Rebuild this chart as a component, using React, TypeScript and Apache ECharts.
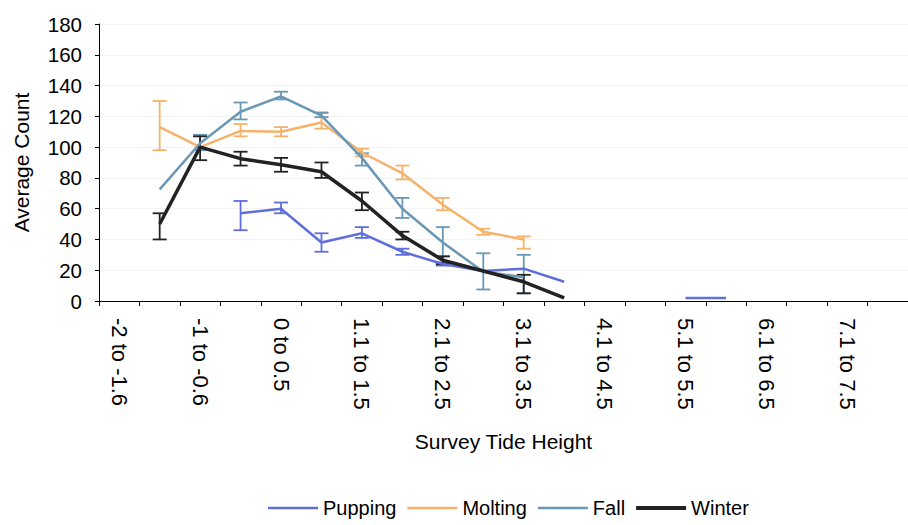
import React, { useEffect, useRef } from "react";
import * as echarts from "echarts";

const categories = [
  "-2 to -1.6", "-1.5 to -1.1", "-1 to -0.6", "-0.5 to -0.1", "0 to 0.5",
  "0.6 to 1", "1.1 to 1.5", "1.6 to 2", "2.1 to 2.5", "2.6 to 3",
  "3.1 to 3.5", "3.6 to 4", "4.1 to 4.5", "4.6 to 5", "5.1 to 5.5",
  "5.6 to 6", "6.1 to 6.5", "6.6 to 7", "7.1 to 7.5", "7.6 to 8",
];

const pupping = [null, null, null, 57, 60, 38, 44, 32, 24, 19.5, 21, 12.5, null, null, 2, 2, null, null, null, null];
const molting = [null, 113, 100, 110.5, 110, 116, 96.5, 83, 62.5, 45, 40, null, null, null, null, null, null, null, null, null];
const fall = [null, 72.5, 102.5, 123, 133, 120.5, 93, 60, 38, 19, 15.5, null, null, null, null, null, null, null, null, null];
const winter = [null, 50, 100, 92.5, 88.5, 84, 65, 42.5, 26.5, 19.5, 12.5, 2, null, null, null, null, null, null, null, null];

// error bars: [categoryIndex, low, high]
const puppingErr = [[3, 46, 65], [4, 57, 64], [5, 32, 44], [6, 41, 48], [7, 30, 34], [8, 23, 25]];
const moltingErr = [[1, 98, 130], [3, 107, 115], [4, 107, 113], [5, 112, 122], [6, 94, 99], [7, 79, 88], [8, 59, 67], [9, 43, 47], [10, 34, 42]];
const fallErr = [[2, 98, 108], [3, 118, 129], [4, 131, 136], [5, 119.5, 122.5], [6, 88, 96], [7, 54, 67], [8, 29, 48], [9, 7.5, 31], [10, 5, 30]];
const winterErr = [[1, 40, 57], [2, 91.5, 107], [3, 88, 97], [4, 84, 93], [5, 80, 90], [6, 59, 70.5], [7, 40, 45], [8, 24, 29], [10, 5, 17]];

const seriesNames = ["Pupping", "Molting", "Fall", "Winter"];
const colors = ["#5e6fdc", "#f5b26b", "#6a97b6", "#222222"];
const widths = [2.5, 2.5, 2.5, 3.5];
const legendIcons = ["path://M0,0H50V2.6H0Z", "path://M0,0H50V2.6H0Z", "path://M0,0H50V2.6H0Z", "rect"];

const FONT = "Liberation Sans, Arial, sans-serif";

export default function App() {
  const ref = useRef<HTMLDivElement>(null);
  useEffect(() => {
    if (!ref.current) return;
    const chart = echarts.init(ref.current, null, { renderer: "svg" });
    const values = [pupping, molting, fall, winter];
    const errs = [puppingErr, moltingErr, fallErr, winterErr];

    const lineSeries = seriesNames.map((name, k) => ({
      name,
      type: "line",
      data: values[k],
      symbol: "none",
      connectNulls: false,
      z: 3,
      lineStyle: { color: colors[k], width: widths[k] },
      itemStyle: { color: colors[k] },
    }));

    const errSeries = seriesNames.map((name, k) => ({
      name: name + " error",
      type: "custom",
      z: 2,
      data: errs[k],
      renderItem: (params: any, api: any) => {
        const x = api.value(0);
        const lo = api.coord([x, api.value(1)]);
        const hi = api.coord([x, api.value(2)]);
        const half = 7;
        const style = { stroke: colors[k], lineWidth: 1.8 };
        return {
          type: "group",
          children: [
            { type: "line", shape: { x1: lo[0], y1: lo[1], x2: hi[0], y2: hi[1] }, style },
            { type: "line", shape: { x1: lo[0] - half, y1: lo[1], x2: lo[0] + half, y2: lo[1] }, style },
            { type: "line", shape: { x1: hi[0] - half, y1: hi[1], x2: hi[0] + half, y2: hi[1] }, style },
          ],
        };
      },
    }));

    chart.setOption({
      animation: false,
      backgroundColor: "#ffffff",
      grid: { left: 99, top: 24, right: 0, bottom: 224, containLabel: false, outerBoundsMode: "none" },
      legend: {
        data: seriesNames.map((n, k) => ({ name: n, icon: legendIcons[k], itemStyle: { color: colors[k], borderWidth: 0 } })),
        left: 268,
        top: 498,
        padding: 0,
        itemWidth: 50,
        itemHeight: 4,
        itemGap: 11,
        textStyle: { fontFamily: FONT, fontSize: 20, color: "#000" },
      },
      xAxis: {
        type: "category",
        data: categories,
        boundaryGap: true,
        name: "Survey Tide Height",
        nameLocation: "middle",
        nameGap: 130,
        nameTextStyle: { fontFamily: FONT, fontSize: 21, color: "#000" },
        axisLine: { lineStyle: { color: "#000", width: 1 } },
        axisTick: { show: true, interval: 0, length: 5, lineStyle: { color: "#000" } },
        axisLabel: {
          interval: 1,
          rotate: -90,
          margin: 17,
          fontFamily: FONT,
          fontSize: 22,
          color: "#000",
        },
        splitLine: { show: false },
      },
      yAxis: {
        type: "value",
        min: 0,
        max: 180,
        interval: 20,
        name: "Average Count",
        nameLocation: "middle",
        nameGap: 67,
        nameTextStyle: { fontFamily: FONT, fontSize: 21, color: "#000" },
        axisLine: { show: true, lineStyle: { color: "#000", width: 1 } },
        axisTick: { show: true, length: 4, lineStyle: { color: "#000" } },
        axisLabel: { margin: 17, fontFamily: FONT, fontSize: 20.5, color: "#000" },
        splitLine: { show: true, lineStyle: { color: "#f4f4f4", width: 1 } },
      },
      series: [...errSeries, ...lineSeries],
    });
    return () => chart.dispose();
  }, []);
  return (
    <div
      ref={ref}
      style={{ position: "fixed", left: 0, top: 0, width: 908, height: 525, background: "#fff" }}
    />
  );
}
